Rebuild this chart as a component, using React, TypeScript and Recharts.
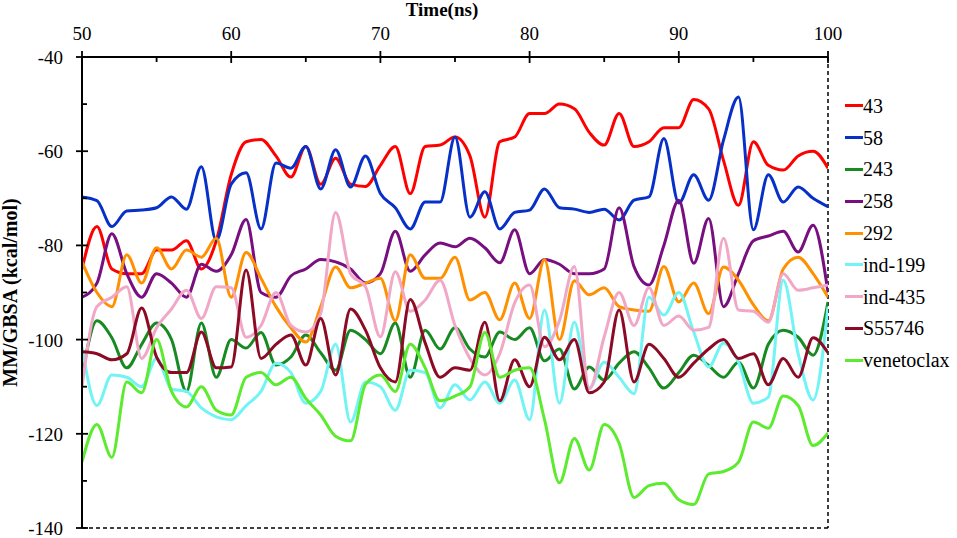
import React from 'react';
import { LineChart, Line, XAxis, YAxis, ReferenceLine, Legend } from 'recharts';

const FONT = 'Liberation Serif';

const TIME = [50, 51, 52, 53, 54, 55, 56, 57, 58, 59, 60, 61, 62, 63, 64, 65, 66, 67, 68, 69, 70, 71, 72, 73, 74, 75, 76, 77, 78, 79, 80, 81, 82, 83, 84, 85, 86, 87, 88, 89, 90, 91, 92, 93, 94, 95, 96, 97, 98, 99, 100];

const X_TICKS = [50, 55, 60, 65, 70, 75, 80, 85, 90, 95, 100];
const Y_TICKS = [-140, -130, -120, -110, -100, -90, -80, -70, -60, -50, -40];

const S43 = [-85, -76, -85, -86, -86, -81, -81, -79, -85, -79, -65, -58, -57.5, -61, -65.5, -59, -67, -61.5, -67, -67.5, -63, -59, -69, -59, -58.7, -57, -61, -74, -58, -57, -52, -52, -50, -51, -56, -58.7, -52, -59, -58, -55, -55, -49, -51, -62, -71.5, -58, -63, -64, -61, -60, -63.6];
const S58 = [-69.7, -70.5, -76, -72.7, -72.5, -72, -69.7, -72.3, -63.3, -79, -67, -64.6, -76.5, -62.5, -63.6, -59, -68, -59.7, -67.6, -61, -69, -72, -76.5, -70.8, -70.8, -57, -74, -68.6, -76.5, -73, -72.5, -68, -72, -72.3, -73, -72.3, -74.6, -70.4, -69.7, -57.3, -71, -65, -70.4, -57.6, -48.5, -76.7, -65, -70.8, -67.6, -70, -71.8];
const S243 = [-108, -96, -99.6, -106, -101, -96.5, -100, -111, -96.5, -108, -100, -101.8, -98.5, -105.4, -103.7, -99, -102.8, -106.5, -98, -100, -103, -96.5, -108, -98, -102, -97.5, -102, -103.7, -98.4, -100, -97.5, -104.5, -102, -110.5, -105.8, -108.6, -105, -102.6, -106, -110.3, -107, -103.3, -105.5, -108, -104.8, -110.3, -101, -98, -99.5, -103.3, -92];
const S258 = [-91, -88, -77.5, -86, -91, -86, -88, -91, -84, -85.5, -82, -74.5, -90, -91, -86.5, -85, -83, -83.5, -85, -88, -86, -77, -85.5, -82, -79.5, -80.3, -78.5, -80.5, -83.7, -76.7, -86, -83, -84, -86, -86, -85, -72, -84.5, -88.4, -80, -70.4, -83.8, -74.3, -93, -86, -79, -78, -77, -81.4, -75.7, -90];
const S292 = [-83.5, -90, -93, -82, -88, -80.5, -85, -81, -82.5, -78.5, -91, -81.5, -87, -93, -97.5, -100.5, -93, -84.6, -89, -88, -87, -96, -82, -87, -87, -82.5, -91.6, -90, -95.8, -88, -95.5, -83, -100, -87.5, -90.5, -89, -93, -93.7, -94, -84.5, -92, -88, -94.5, -84.6, -87.4, -92.6, -96, -85, -82.5, -86, -91];
const SIND199 = [-101.5, -114, -107.5, -108, -110, -104, -110.5, -111, -114.5, -116.4, -117, -114, -111, -105, -107, -113.5, -111, -101, -117.5, -109, -110, -115, -106.5, -107, -114.5, -109.6, -112.8, -109, -113.5, -108.6, -117, -93.7, -113.5, -96.3, -110.3, -104.8, -108, -111.5, -91, -94.8, -90, -98.4, -105.8, -100.7, -104.8, -113.5, -112.2, -87.4, -103, -112.8, -93];
const SIND435 = [-110, -93, -91, -88.8, -104, -97.5, -93.5, -89.5, -95.5, -88.8, -89, -99.5, -97, -90, -97, -98.4, -94.4, -73, -86, -88.8, -99.4, -85.6, -94, -91.6, -87.4, -97, -104, -107.5, -103, -92.2, -88.4, -101.5, -96, -84.5, -110.5, -99.4, -90, -97, -89, -97, -95, -98, -97.4, -78.5, -93.7, -94, -96.3, -86, -89.5, -89, -88.4];
const SS55746 = [-102.6, -103, -104.3, -103, -93.3, -103.7, -107, -107, -98.4, -106, -105.8, -85.2, -104, -101, -99, -105.4, -95.5, -107.5, -93.5, -98, -106, -109, -91.5, -100.7, -108, -106, -106.5, -96.3, -113, -104.3, -110, -99.5, -104.3, -100, -111.3, -109, -93.7, -109, -101, -104, -108, -105, -102, -100, -104, -103, -109.6, -104, -108, -99.6, -102.8];
const SVENETOCLAX = [-126, -118, -125, -109, -111.3, -100, -111, -114.3, -110, -115, -116, -108, -107, -109.6, -108, -112.5, -116, -120.5, -121.5, -109.5, -107.5, -111, -101, -106, -113, -112, -110, -98.5, -108, -106.5, -106, -117, -130.4, -121, -127.7, -118, -122, -133.5, -131, -130.5, -134, -135, -128.5, -128, -126, -117.5, -118.8, -112, -114, -122.5, -119.8];

const SERIES = [
  { key: 's43', name: '43', color: '#FF0000', values: S43 },
  { key: 's58', name: '58', color: '#0730C8', values: S58 },
  { key: 's243', name: '243', color: '#178A22', values: S243 },
  { key: 's258', name: '258', color: '#780E80', values: S258 },
  { key: 's292', name: '292', color: '#FF9000', values: S292 },
  { key: 'sind199', name: 'ind-199', color: '#72F4F4', values: SIND199 },
  { key: 'sind435', name: 'ind-435', color: '#F0A8C6', values: SIND435 },
  { key: 'ss55746', name: 'S55746', color: '#8C0A24', values: SS55746 },
  { key: 'svenetoclax', name: 'venetoclax', color: '#5CEB2E', values: SVENETOCLAX },
];

const DATA = TIME.map((t, i) => {
  const row: any = { t };
  SERIES.forEach((s) => {
    row[s.key] = s.values[i];
  });
  return row;
});

const XTick = (props: any) => {
  const { x, y, payload } = props;
  const v = payload.value;
  const major = v % 10 === 0;
  const d = major ? `M${x},${y - 6}L${x},${y + 6}` : `M${x},${y}L${x},${y + 5}`;
  return (
    <g>
      <path d={d} stroke="#000" strokeWidth={1.8} fill="none" />
      {major && (
        <text x={x} y={y - 17} textAnchor="middle" fontFamily={FONT} fontSize={19} fill="#000">
          {v}
        </text>
      )}
    </g>
  );
};

const YTick = (props: any) => {
  const { x, y, payload } = props;
  const v = payload.value;
  const major = v % 20 === 0;
  const d = major ? `M${x - 6},${y}L${x + 6},${y}` : `M${x},${y}L${x + 5},${y}`;
  return (
    <g>
      <path d={d} stroke="#000" strokeWidth={1.8} fill="none" />
      {major && (
        <text x={x - 19} y={y + 7} textAnchor="end" fontFamily={FONT} fontSize={19} fill="#000">
          {v}
        </text>
      )}
    </g>
  );
};

const XTitle = (props: any) => {
  const vb = props.viewBox || { x: 0, width: 0 };
  return (
    <text x={vb.x + vb.width / 2 - 13} y={16} textAnchor="middle" fontFamily={FONT} fontSize={19} fontWeight="bold" fill="#000">
      Time(ns)
    </text>
  );
};

const YTitle = (props: any) => {
  const vb = props.viewBox || { y: 0, height: 0 };
  const cy = vb.y + vb.height / 2;
  return (
    <text x={17} y={cy} transform={`rotate(-90, 17, ${cy})`} textAnchor="middle" fontFamily={FONT} fontSize={20} fontWeight="bold" fill="#000">
      MM/GBSA (kcal/mol)
    </text>
  );
};

const LegendBox = () => (
  <div style={{ fontFamily: FONT, fontSize: 20, color: '#000' }}>
    {SERIES.map((s) => (
      <div key={s.key} style={{ display: 'flex', alignItems: 'center', height: 31.8, whiteSpace: 'nowrap' }}>
        <span style={{ display: 'inline-block', width: 18, height: 3, background: s.color }} />
        <span style={{ lineHeight: 1, fontFamily: FONT, fontSize: 20 }}>{s.name}</span>
      </div>
    ))}
  </div>
);

export default function App() {
  return (
    <div style={{ position: 'absolute', left: 0, top: 0, width: 957, height: 538, background: '#fff', fontFamily: FONT }}>
      <LineChart width={957} height={538} data={DATA} margin={{ top: 27, right: 129, bottom: 10, left: 22 }}>
        <XAxis
          dataKey="t"
          type="number"
          orientation="top"
          domain={[50, 100]}
          ticks={X_TICKS}
          height={30}
          tickSize={0}
          tickMargin={0}
          tick={<XTick />}
          axisLine={{ stroke: '#000', strokeWidth: 2 }}
          allowDataOverflow
          label={<XTitle />}
        />
        <YAxis
          type="number"
          domain={[-140, -40]}
          ticks={Y_TICKS}
          width={60}
          tickSize={0}
          tickMargin={0}
          tick={<YTick />}
          axisLine={{ stroke: '#000', strokeWidth: 2 }}
          allowDataOverflow
          label={<YTitle />}
        />
        <ReferenceLine x={100} stroke="#000" strokeWidth={1.5} strokeDasharray="4 3" />
        <ReferenceLine y={-140} stroke="#000" strokeWidth={1.5} strokeDasharray="4 3" />
        {SERIES.map((s) => (
          <Line
            key={s.key}
            dataKey={s.key}
            name={s.name}
            type="monotone"
            stroke={s.color}
            strokeWidth={3}
            dot={false}
            activeDot={false}
            isAnimationActive={false}
          />
        ))}
        <Legend
          layout="horizontal"
          verticalAlign="middle"
          align="center"
          content={<LegendBox />}
          wrapperStyle={{ position: 'absolute', left: 845, top: 90, width: 112, margin: 0 }}
        />
      </LineChart>
    </div>
  );
}
